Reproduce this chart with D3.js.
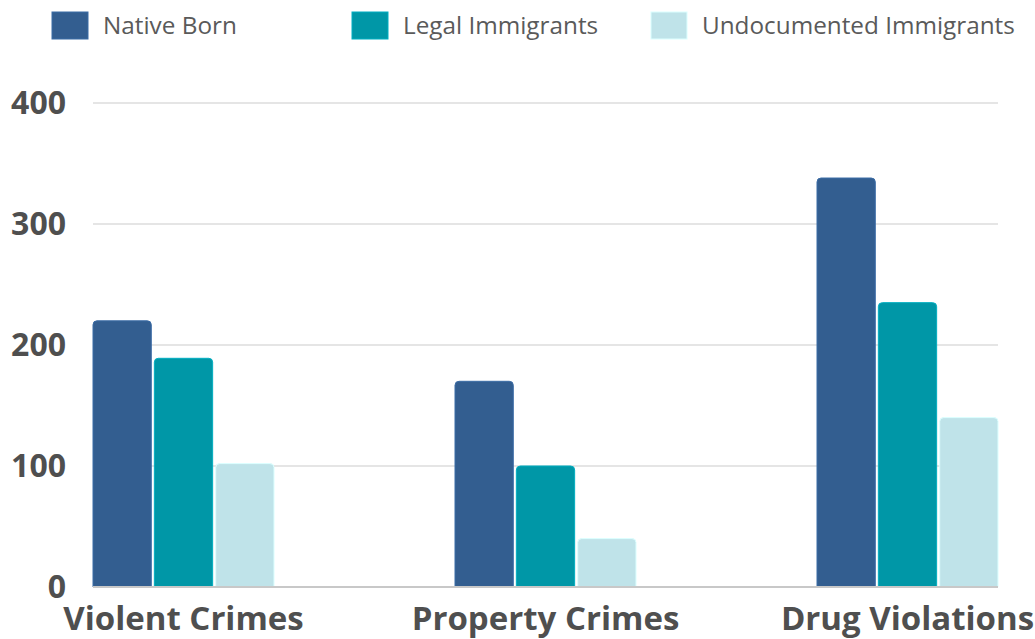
<!DOCTYPE html>
<html>
<head>
<meta charset="utf-8">
<script src="https://cdn.jsdelivr.net/npm/d3@7"></script>
<style>
  body { margin: 0; background: #fff; }
  svg { display: block; font-family: "Open Sans", sans-serif; }
</style>
</head>
<body>
<svg width="1035" height="639"></svg>
<script>
const categories = ["Violent Crimes", "Property Crimes", "Drug Violations"];
const seriesNames = ["Native Born", "Legal Immigrants", "Undocumented Immigrants"];
const nativeBorn = [220, 170, 338];
const legalImmigrants = [189, 100, 235];
const undocumented = [102, 40, 140];
const yTicks = [0, 100, 200, 300, 400];
const colors = ["#335e90", "#0097a7", "#bfe3e9"];

const series = [nativeBorn, legalImmigrants, undocumented];

const svg = d3.select("svg"),
      margin = {top: 103, right: 37, bottom: 52, left: 93},
      width = +svg.attr("width") - margin.left - margin.right,
      height = +svg.attr("height") - margin.top - margin.bottom;

const g = svg.append("g").attr("transform", `translate(${margin.left},${margin.top})`);

const x0 = d3.scaleBand()
  .domain(categories)
  .range([0, width])
  .paddingInner(0.5)
  .paddingOuter(0);

const x1 = d3.scaleBand()
  .domain(seriesNames)
  .range([0, x0.bandwidth()])
  .paddingInner(0.05);

const y = d3.scaleLinear()
  .domain([0, 400])
  .range([height, 0]);

// gridlines
g.selectAll("line.grid")
  .data(yTicks.filter(d => d > 0))
  .join("line")
  .attr("class", "grid")
  .attr("x1", 0)
  .attr("x2", width)
  .attr("y1", d => y(d))
  .attr("y2", d => y(d))
  .attr("stroke", "#dcdcdc")
  .attr("stroke-width", 1.5);

// y tick labels
g.selectAll("text.ytick")
  .data(yTicks)
  .join("text")
  .attr("class", "ytick")
  .attr("x", -27)
  .attr("y", d => y(d) + 11)
  .attr("text-anchor", "end")
  .style("font-size", "32px")
  .style("font-weight", "bold")
  .style("fill", "#4f4f4f")
  .text(d => d);

// bars with rounded tops
const rounded = (x, yTop, w, h, r) => {
  r = Math.min(r, h);
  return `M${x},${yTop + h}V${yTop + r}Q${x},${yTop} ${x + r},${yTop}H${x + w - r}Q${x + w},${yTop} ${x + w},${yTop + r}V${yTop + h}Z`;
};

const groups = g.selectAll("g.cat")
  .data(categories)
  .join("g")
  .attr("class", "cat")
  .attr("transform", d => `translate(${x0(d)},0)`);

groups.selectAll("path")
  .data((c, i) => seriesNames.map((s, j) => ({s, j, v: series[j][i]})))
  .join("path")
  .attr("d", d => rounded(x1(d.s), y(d.v), x1.bandwidth(), height - y(d.v), 4))
  .attr("fill", d => colors[d.j])
  .attr("stroke", d => d3.color(colors[d.j]).brighter(0.4))
  .attr("stroke-width", 1);

// baseline
g.append("line")
  .attr("x1", 0)
  .attr("x2", width)
  .attr("y1", height)
  .attr("y2", height)
  .attr("stroke", "#c8c8c8")
  .attr("stroke-width", 2);

// x labels
g.selectAll("text.xlab")
  .data(categories)
  .join("text")
  .attr("class", "xlab")
  .attr("x", d => x0(d) + x0.bandwidth() / 2)
  .attr("y", height + 43)
  .attr("text-anchor", "middle")
  .style("font-size", "33px")
  .style("font-weight", "bold")
  .style("fill", "#4f4f4f")
  .text(d => d);

// legend
const legendX = [52, 352, 651];
const legend = svg.selectAll("g.legend")
  .data(seriesNames)
  .join("g")
  .attr("class", "legend")
  .attr("transform", (d, i) => `translate(${legendX[i]},12)`);

legend.append("rect")
  .attr("width", 36)
  .attr("height", 27)
  .attr("fill", (d, i) => colors[i])
  .attr("stroke", (d, i) => d3.color(colors[i]).brighter(0.4))
  .attr("stroke-width", 1);

legend.append("text")
  .attr("x", 51)
  .attr("y", 22)
  .style("font-size", "24.3px")
  .style("fill", "#5a5a5a")
  .text(d => d);
</script>
</body>
</html>
